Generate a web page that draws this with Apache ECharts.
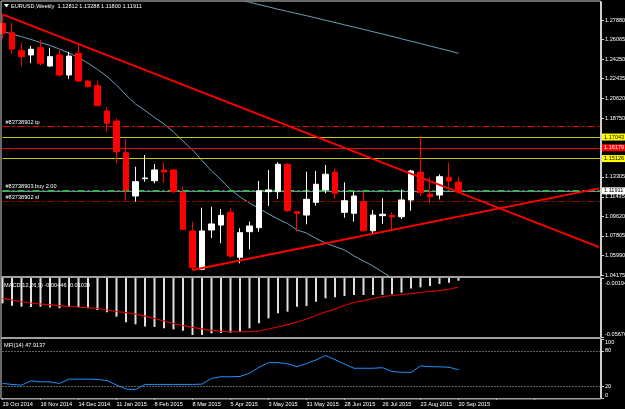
<!DOCTYPE html>
<html><head><meta charset="utf-8">
<script src="https://cdn.jsdelivr.net/npm/echarts@6/dist/echarts.min.js"></script>
<style>html,body{margin:0;padding:0;background:#000;}#c{width:625px;height:409px;}</style>
</head><body><div id="c"></div>
<script>
// ---- data ----
const weeks = ['19 Oct 2014','26 Oct 2014','2 Nov 2014','9 Nov 2014','16 Nov 2014','23 Nov 2014','30 Nov 2014','7 Dec 2014','14 Dec 2014','21 Dec 2014','28 Dec 2014',
'4 Jan 2015','11 Jan 2015','18 Jan 2015','25 Jan 2015','1 Feb 2015','8 Feb 2015','15 Feb 2015','22 Feb 2015','1 Mar 2015','8 Mar 2015','15 Mar 2015','22 Mar 2015','29 Mar 2015',
'5 Apr 2015','12 Apr 2015','19 Apr 2015','26 Apr 2015','3 May 2015','10 May 2015','17 May 2015','24 May 2015','31 May 2015','7 Jun 2015','14 Jun 2015','21 Jun 2015','28 Jun 2015',
'5 Jul 2015','12 Jul 2015','19 Jul 2015','26 Jul 2015','2 Aug 2015','9 Aug 2015','16 Aug 2015','23 Aug 2015','30 Aug 2015','6 Sep 2015','13 Sep 2015','20 Sep 2015'];
const emptySlots = 15;
const open  = [1.2757,1.2670,1.2503,1.2463,1.2531,1.2360,1.2463,1.2277,1.2478,1.2221,1.2177,1.1942,1.1849,1.1554,1.1152,1.1313,1.1294,1.1394,1.1394,1.1183,1.0827,1.0470,1.0836,1.0882,1.1000,1.0582,1.0820,1.0857,1.1192,1.1192,1.1447,1.1006,1.0975,1.1093,1.1208,1.1372,1.1000,1.0991,1.1099,1.0829,1.0969,1.0972,1.0959,1.1115,1.1372,1.1170,1.1161,1.1326,1.12812];
const high  = [1.2835,1.2763,1.2577,1.2546,1.2602,1.2531,1.2509,1.2493,1.2562,1.2230,1.2224,1.1976,1.1874,1.1679,1.1424,1.1533,1.1449,1.1465,1.1400,1.1238,1.0913,1.1043,1.1052,1.1031,1.1038,1.0852,1.0913,1.1291,1.1394,1.1465,1.1456,1.1010,1.1378,1.1384,1.1440,1.1409,1.1279,1.1192,1.1192,1.1022,1.1131,1.1000,1.1214,1.1394,1.1710,1.1326,1.1354,1.1461,1.13288];
const low   = [1.2609,1.2478,1.2360,1.2386,1.2367,1.2354,1.2261,1.2240,1.2214,1.2162,1.1988,1.1750,1.1456,1.1108,1.1099,1.1285,1.1270,1.1276,1.1177,1.0838,1.0464,1.0462,1.0761,1.0712,1.0573,1.0526,1.0656,1.0820,1.1059,1.1124,1.1006,1.0820,1.0889,1.1062,1.1177,1.1124,1.0950,1.0913,1.0825,1.0805,1.0892,1.0845,1.0938,1.1015,1.1152,1.1084,1.1121,1.1217,1.11800];
const close = [1.2664,1.2518,1.2447,1.2516,1.2386,1.2447,1.2277,1.2453,1.2221,1.2168,1.1991,1.1828,1.1564,1.1208,1.1285,1.1319,1.1394,1.1375,1.1192,1.0842,1.0485,1.0827,1.0892,1.0972,1.0594,1.0811,1.0873,1.1201,1.1208,1.1447,1.1015,1.0991,1.1121,1.1261,1.1354,1.1177,1.1108,1.1152,1.0829,1.0975,1.0982,1.0957,1.1115,1.1384,1.1183,1.1145,1.1331,1.1291,1.11911];
const maFast = [1.2681,1.2658,1.2633,1.2607,1.2579,1.2551,1.2518,1.2481,1.2439,1.2386,1.2328,1.2263,1.2184,1.2091,1.2007,1.1947,1.1882,1.1821,1.1747,1.1663,1.1580,1.1482,1.1384,1.1305,1.1212,1.1143,1.1087,1.1036,1.0985,1.0938,1.0896,1.0836,1.0808,1.0757,1.0715,1.0682,1.0650,1.0594,1.0548,1.0501,1.0445,1.0390];
const maSlowFrom = 25;
const maSlow = [1.2974,1.2953,1.2931,1.2910,1.2888,1.2868,1.2848,1.2828,1.2807,1.2785,1.2765,1.2743,1.2722,1.2701,1.2679,1.2658,1.2636,1.2613,1.2591,1.2569,1.2546,1.2524,1.2502,1.2478];
const macdHist = [-0.0255,-0.0277,-0.0286,-0.0289,-0.0286,-0.0293,-0.0301,-0.0289,-0.0292,-0.0301,-0.0317,-0.0338,-0.0379,-0.0431,-0.0450,-0.0470,-0.0474,-0.0487,-0.0497,-0.0509,-0.0549,-0.0549,-0.0534,-0.0530,-0.0528,-0.0518,-0.0487,-0.0441,-0.0394,-0.0348,-0.0332,-0.0286,-0.0280,-0.0239,-0.0208,-0.0199,-0.0187,-0.0177,-0.0177,-0.0177,-0.0177,-0.0171,-0.0156,-0.0116,-0.0106,-0.0094,-0.0075,-0.0063,-0.00446];
const macdSignal = [-0.0208,-0.0224,-0.0240,-0.0252,-0.0261,-0.0270,-0.0277,-0.0282,-0.0289,-0.0295,-0.0303,-0.0317,-0.0331,-0.0342,-0.0354,-0.0373,-0.0396,-0.0419,-0.0442,-0.0461,-0.0479,-0.0493,-0.0507,-0.0514,-0.0519,-0.0519,-0.0517,-0.0512,-0.0493,-0.0475,-0.0452,-0.0428,-0.0400,-0.0368,-0.0335,-0.0308,-0.0275,-0.0247,-0.0229,-0.0210,-0.0193,-0.0182,-0.0173,-0.0164,-0.0154,-0.0145,-0.0136,-0.0124,-0.01030];
const mfi = [24.7,23.0,21.8,29.0,27.5,27.4,24.7,32.0,32.0,32.0,31.5,29.5,22.0,15.0,14.4,23.0,23.0,23.0,23.0,23.0,23.0,23.5,33.3,36.0,36.0,36.5,42.0,52.0,60.0,60.0,58.0,53.1,58.5,64.5,72.0,65.0,57.5,50.4,50.4,50.4,51.4,45.0,43.5,43.5,54.3,53.1,52.8,52.1,47.9137];
const priceTicks = [1.27880,1.26065,1.24250,1.22435,1.20620,1.18750,1.13305,1.11435,1.09620,1.07805,1.05990,1.04175];
const macdTicks = [-0.001945,-0.056767];
const mfiTicks = [0,20,80,100];
const mfiLevels = [80,20];
const orderNames = ['#83738902 tp','#83738903 buy 2.00','#83738902 sl'];
const orderLevels = [1.17961,1.12011,1.10682];
const lineLevels = [1.17043,1.16179,1.15126];
const bidPrice = 1.11911;
const downTrend = [[0,1.2841],[62.8,1.0676]];
const upTrend = [[20,1.0464],[62.8,1.1223]];

// ---- chart ----
const cats = weeks.concat(new Array(emptySlots).fill(''));
const N = cats.length;
const candles = weeks.map((w,i)=>[open[i],close[i],low[i],high[i]]);
const fastData = cats.map((c,i)=> i<maFast.length ? maFast[i] : null);
const slowData = cats.map((c,i)=> (i>=maSlowFrom && i-maSlowFrom<maSlow.length) ? maSlow[i-maSlowFrom] : null);
const FONT = "'Liberation Sans',sans-serif";
const fs = 5.6;

const orderStyles = [
  {color:'#ff0000',width:1,type:[7,3,2,3]},
  {color:'#00e000',width:2,type:[7,3,2,3]},
  {color:'#a00000',width:1,type:[7,3,2,3]}
];
const levelStyles = [
  {line:'#c8c800',bg:'#ffff00',fg:'#000'},
  {line:'#ff0000',bg:'#ff0000',fg:'#fff'},
  {line:'#c8c800',bg:'#ffff00',fg:'#000'}
];
const markData = [];
orderLevels.forEach((v,i)=>markData.push({yAxis:v,name:orderNames[i],lineStyle:orderStyles[i],
  label:{show:true,position:'insideStartTop',formatter:orderNames[i],color:'#ffffff',fontSize:fs,fontFamily:FONT,distance:[3,1]}}));
lineLevels.forEach((v,i)=>markData.push({yAxis:v,lineStyle:{color:levelStyles[i].line,width:1,type:'solid'},
  label:{show:true,position:'end',distance:1,formatter:v.toFixed(5),backgroundColor:levelStyles[i].bg,color:levelStyles[i].fg,fontSize:fs,fontFamily:FONT,padding:[1,2,0,2]}}));
markData.push({yAxis:bidPrice,lineStyle:{color:'#778899',width:1,type:'solid'},
  label:{show:true,position:'end',distance:1,formatter:bidPrice.toFixed(5),backgroundColor:'#ffffff',color:'#000',fontSize:fs,fontFamily:FONT,padding:[1,2,0,2]}});

// MFI level lines + the bottom "0" scale label (anchored to the value 0 through the axis)
const mfiMarks = mfiLevels.map(v=>({yAxis:v,label:{show:false}}));
mfiMarks.push({yAxis:mfiTicks[0],lineStyle:{opacity:0},
  label:{show:true,position:'end',distance:4,offset:[0,-3],formatter:String(mfiTicks[0]),color:'#ffffff',fontSize:fs,fontFamily:FONT}});

const chart = echarts.init(document.getElementById('c'),null,{renderer:'canvas'});
const gridL = 2.5, step = 9.5;
const gridR = 625 - gridL - step*(N-1);
const hiddenCat = (gi)=>({type:'category',gridIndex:gi,data:cats,boundaryGap:false,show:false});
const title = 'EURUSD,Weekly  ' + [open[48],high[48],low[48],close[48]].map(v=>v.toFixed(5)).join(' ');
const macdTitle = 'MACD(12,26,9) ' + macdHist[48].toFixed(5) + ' ' + macdSignal[48].toFixed(5);
const mfiTitle = 'MFI(14) ' + mfi[48].toFixed(4);
const gfont = fs + "px 'Liberation Sans',sans-serif";

chart.setOption({
  backgroundColor:'#000000',
  animation:false,
  grid:[
    {left:gridL,right:gridR,top:2,height:274,outerBoundsMode:'none',containLabel:false},
    {left:gridL,right:gridR,top:278,height:59,outerBoundsMode:'none',containLabel:false},
    {left:gridL,right:gridR,top:339,height:59,outerBoundsMode:'none',containLabel:false}
  ],
  xAxis:[
    hiddenCat(0),
    {type:'value',gridIndex:0,min:0,max:N-1,show:false},
    hiddenCat(1),
    {type:'category',gridIndex:2,data:cats,boundaryGap:false,
     axisLine:{show:true,lineStyle:{color:'#b0b0b0',width:1}},
     axisTick:{show:true,interval:3,length:2,lineStyle:{color:'#c0c0c0'}},
     axisLabel:{interval:3,align:'left',color:'#ffffff',fontSize:fs,fontFamily:FONT,margin:3,showMaxLabel:false}}
  ],
  yAxis:[
    {type:'value',gridIndex:0,position:'right',min:1.04082,max:1.29553,splitLine:{show:false},
     axisLine:{show:true,onZero:false,lineStyle:{color:'#d0d0d0'}},
     axisTick:{show:true,length:3,customValues:priceTicks,lineStyle:{color:'#d0d0d0'}},
     axisLabel:{customValues:priceTicks,color:'#ffffff',fontSize:fs,fontFamily:FONT,margin:4,formatter:v=>v.toFixed(5)}},
    {type:'value',gridIndex:1,position:'right',min:macdTicks[1],max:macdTicks[0],splitLine:{show:false},
     axisLine:{show:true,onZero:false,lineStyle:{color:'#d0d0d0'}},
     axisTick:{show:true,length:3,customValues:macdTicks,lineStyle:{color:'#d0d0d0'}},
     axisLabel:{customValues:macdTicks,color:'#ffffff',fontSize:fs,fontFamily:FONT,margin:4,showMinLabel:true,showMaxLabel:true,
       formatter:v=> v>-0.01 ? '{t|'+v.toFixed(6)+'}' : '{b|'+v.toFixed(6)+'}',
       rich:{t:{fontSize:fs,fontFamily:FONT,color:'#fff',padding:[10,0,0,0]},b:{fontSize:fs,fontFamily:FONT,color:'#fff',padding:[0,0,6,0]}}}},
    {type:'value',gridIndex:2,position:'right',min:0,max:100,splitLine:{show:false},
     axisLine:{show:true,onZero:false,lineStyle:{color:'#d0d0d0'}},
     axisTick:{show:true,length:3,customValues:mfiTicks,lineStyle:{color:'#d0d0d0'}},
     axisLabel:{customValues:mfiTicks,color:'#ffffff',fontSize:fs,fontFamily:FONT,margin:4,showMinLabel:true,showMaxLabel:true,hideOverlap:false,
       verticalAlignMinLabel:'bottom',verticalAlignMaxLabel:'top',formatter:v=>String(v)}}
  ],
  series:[
    {type:'line',xAxisIndex:0,yAxisIndex:0,data:slowData,symbol:'none',lineStyle:{color:'#6c9cb5',width:1},connectNulls:false,z:1},
    {type:'line',xAxisIndex:0,yAxisIndex:0,data:fastData,symbol:'none',lineStyle:{color:'#6c9cb5',width:1},z:1},
    {type:'candlestick',xAxisIndex:0,yAxisIndex:0,data:candles,barWidth:6,clip:false,z:3,
     itemStyle:{color:'#ffffff',color0:'#ff0000',borderColor:'#ffffff',borderColor0:'#ff0000',borderWidth:1},
     markLine:{symbol:['none','none'],silent:true,animation:false,data:markData,z:2}},
    {type:'line',xAxisIndex:1,yAxisIndex:0,data:downTrend,symbol:'none',lineStyle:{color:'#ff0000',width:1.8},z:4},
    {type:'line',xAxisIndex:1,yAxisIndex:0,data:upTrend,symbol:'none',lineStyle:{color:'#ff0000',width:1.8},z:4},
    {type:'bar',xAxisIndex:2,yAxisIndex:1,data:macdHist,barWidth:2,itemStyle:{color:'#e0e0e0'}},
    {type:'line',xAxisIndex:2,yAxisIndex:1,data:macdSignal,symbol:'none',lineStyle:{color:'#dd0000',width:1.2}},
    {type:'line',xAxisIndex:3,yAxisIndex:2,data:mfi,symbol:'none',lineStyle:{color:'#1e90ff',width:1},
     markLine:{symbol:['none','none'],silent:true,lineStyle:{color:'#c0c0c0',type:[1,2],width:1},data:mfiMarks}}
  ],
  graphic:[
    {type:'line',shape:{x1:1,y1:1,x2:600.5,y2:1},style:{stroke:'#d0d0d0',lineWidth:1},z:100},
    {type:'line',shape:{x1:1,y1:1,x2:1,y2:399},style:{stroke:'#d0d0d0',lineWidth:1},z:100},
    {type:'line',shape:{x1:600.5,y1:1,x2:600.5,y2:399},style:{stroke:'#d0d0d0',lineWidth:1},z:100},
    {type:'rect',shape:{x:1,y:276,width:600,height:2},style:{fill:'#a0a0a0'},z:100},
    {type:'rect',shape:{x:1,y:337,width:600,height:2},style:{fill:'#a0a0a0'},z:100},
    {type:'rect',shape:{x:1,y:398,width:600,height:1.5},style:{fill:'#a0a0a0'},z:100},
    {type:'polygon',shape:{points:[[4,4],[9,4],[6.5,7.5]]},style:{fill:'#ffffff'},z:100},
    {type:'text',left:11,top:3,style:{text:title,fill:'#ffffff',font:gfont},z:100},
    {type:'text',left:4,top:282,style:{text:macdTitle,fill:'#ffffff',font:gfont},z:100},
    {type:'text',left:4,top:342,style:{text:mfiTitle,fill:'#ffffff',font:gfont},z:100}
  ]
});
</script></body></html>
